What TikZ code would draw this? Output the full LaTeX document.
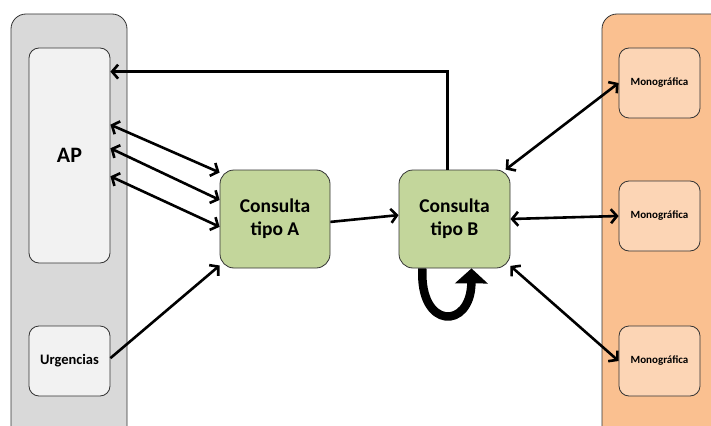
\documentclass[tikz,border=0pt]{standalone}
\usepackage{fontspec}
\setmainfont{Carlito}
\usetikzlibrary{arrows.meta}

\definecolor{panelgray}{HTML}{D9D9D9}
\definecolor{boxgray}{HTML}{F2F2F2}
\definecolor{panelorange}{HTML}{FAC090}
\definecolor{boxorange}{HTML}{FCD5B5}
\definecolor{boxgreen}{HTML}{C3D69B}

\begin{document}
\begin{tikzpicture}[x=1pt,y=-1pt,
    panel/.style={draw=black!80,line width=0.8pt,rounded corners=15pt},
    box/.style={draw=black!80,line width=0.8pt,rounded corners=10pt,
        font=\bfseries,align=center,inner sep=0pt},
    link/.style={line width=2.6pt,-{Straight Barb[length=6pt,width=14pt]}},
    both/.style={link,{Straight Barb[length=6pt,width=14pt]}-{Straight Barb[length=6pt,width=14pt]}}]

    \useasboundingbox (0,0) rectangle (711,425);
    \clip (0,0) rectangle (711,425);

    % the two columns
    \draw[panel,fill=panelgray] (11,14) rectangle (127,445);
    \draw[panel,fill=panelorange] (602,14) rectangle (735,445);

    \node[box,fill=boxgray,minimum width=81pt,minimum height=215pt,font=\bfseries\fontsize{22}{24}\selectfont]
        (ap) at (69.5,155.5) {AP};
    \node[box,fill=boxgray,minimum width=81pt,minimum height=70pt,font=\bfseries\fontsize{14.5}{16}\selectfont]
        (urg) at (69.5,361) {Urgencias};

    \foreach \y [count=\i] in {83,216,361}
        \node[box,fill=boxorange,minimum width=81pt,minimum height=70pt,font=\bfseries\fontsize{11}{13}\selectfont]
            (mono\i) at (659.5,\y) {Monográfica};

    \node[box,fill=boxgreen,rounded corners=14pt,minimum width=110pt,minimum height=98pt,
        font=\bfseries\fontsize{19.5}{23}\selectfont] (ca) at (275,219) {Consulta\\tipo A};
    \node[box,fill=boxgreen,rounded corners=14pt,minimum width=111pt,minimum height=98pt,
        font=\bfseries\fontsize{19.5}{23}\selectfont] (cb) at (454.5,219) {Consulta\\tipo B};

    % connectors
    \draw[link] (cb.98) |- (ap.64);

    \draw[both] (ap.37) -- (ca.140);
    \draw[both] (ap.10) -- (ca.161);
    \draw[both] (ap.-27) -- (ca.188);
    \draw[link] (urg.4) -- (ca.-140);

    \draw[link] (ca.-3) -- (cb.176);

    \draw[both] (cb.44) -- (mono1.west);
    \draw[both] (cb.east) -- (mono2.west);
    \draw[both] (cb.-40) -- (mono3.west);

    % loop under tipo B
    \draw[line width=8.5pt,-{Triangle[length=15pt,width=32pt]}]
        (cb.-123) .. controls (419,330) and (471,330) .. (cb.-71);
\end{tikzpicture}
\end{document}
